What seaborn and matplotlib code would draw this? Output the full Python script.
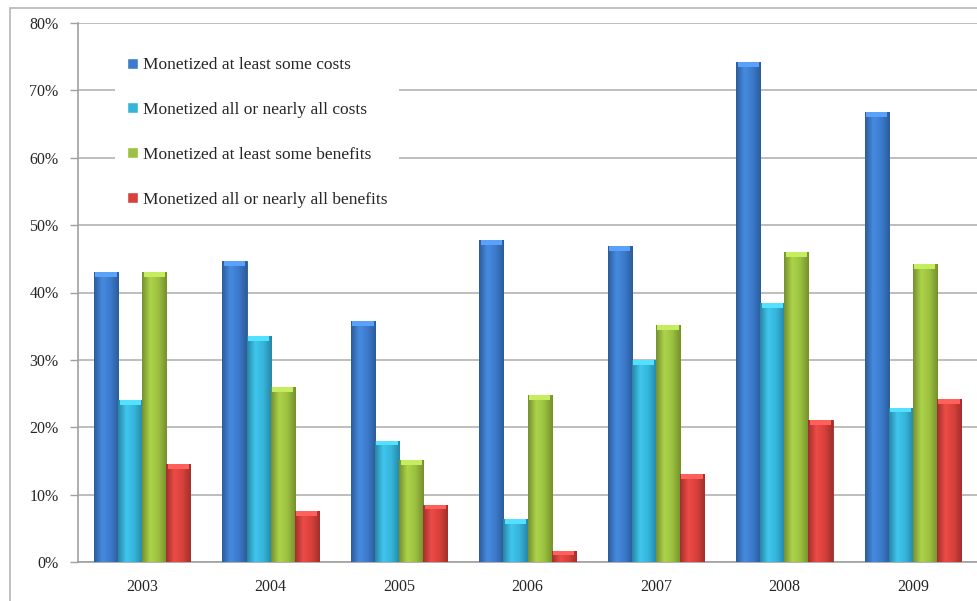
import numpy as np
import pandas as pd
import matplotlib
matplotlib.use("Agg")
import matplotlib.pyplot as plt
from matplotlib.patches import Rectangle
from matplotlib.colors import LinearSegmentedColormap, to_rgb
import seaborn as sns

years = ["2003", "2004", "2005", "2006", "2007", "2008", "2009"]
series = [
    "Monetized at least some costs",
    "Monetized all or nearly all costs",
    "Monetized at least some benefits",
    "Monetized all or nearly all benefits",
]
some_costs = [43.0, 44.7, 35.8, 47.8, 46.9, 74.2, 66.8]
all_costs = [24.0, 33.5, 18.0, 6.4, 30.0, 38.4, 22.9]
some_benefits = [43.0, 26.0, 15.1, 24.8, 35.2, 46.0, 44.2]
all_benefits = [14.5, 7.6, 8.5, 1.7, 13.0, 21.1, 24.2]
colors = ["#3b7bcc", "#35b4da", "#9cc03f", "#d8403b"]

values = [some_costs, all_costs, some_benefits, all_benefits]
df = pd.DataFrame(
    [(y, s, v) for s, vals in zip(series, values) for y, v in zip(years, vals)],
    columns=["year", "series", "pct"],
)

sns.set_theme(style="white")
plt.rcParams["font.family"] = ["Liberation Serif", "DejaVu Serif"]

fig = plt.figure(figsize=(9.77, 6.01), dpi=100)
ax = fig.add_axes([78 / 977, 1 - 562 / 601, 1 - 78 / 977, (562 - 23) / 601])

# outer chart border
fig.patches.append(Rectangle((10 / 977, -0.1), 1.2, 1 - 8 / 601 + 0.1,
                             transform=fig.transFigure, fill=False,
                             edgecolor="#b5b5b5", linewidth=1.2, zorder=0))

sns.barplot(data=df, x="year", y="pct", hue="series", order=years,
            hue_order=series, palette=colors, width=0.75, gap=0,
            saturation=1, ax=ax, legend=True, zorder=3)


def shade(c):
    r, g, b = to_rgb(c)
    dark = tuple(max(0, x * 0.75) for x in (r, g, b))
    light = tuple(min(1, x * 1.06 + 0.03) for x in (r, g, b))
    return LinearSegmentedColormap.from_list("s", [dark, light, (r, g, b), dark])


grad = np.linspace(0, 1, 64).reshape(1, -1)
for container, c in zip(ax.containers, colors):
    cmap = shade(c)
    for bar in container:
        x0, w, h = bar.get_x(), bar.get_width(), bar.get_height()
        bar.set_edgecolor(tuple(v * 0.7 for v in to_rgb(c)))
        bar.set_linewidth(0.6)
        im = ax.imshow(grad, cmap=cmap, aspect="auto",
                       extent=(x0, x0 + w, 0, h), zorder=3.5,
                       interpolation="bilinear")
        im.set_clip_path(bar)
        # bevelled cap on top of each bar
        cap = min(0.7, h)
        top = tuple(min(1, v * 1.1 + 0.1) for v in to_rgb(c))
        ax.add_patch(Rectangle((x0 + w * 0.06, h - cap), w * 0.88, cap,
                               facecolor=top, edgecolor="none", zorder=3.6))

ax.set_xlim(-0.5, len(years) - 0.5)
ax.set_ylim(0, 80)
ax.set_yticks(np.arange(0, 81, 10))
ax.set_yticklabels([f"{v}%" for v in range(0, 81, 10)], fontsize=11.5)
ax.yaxis.grid(True, color="#b3b3b3", linewidth=1.2, zorder=0)
ax.set_axisbelow(True)
ax.set_xlabel("")
ax.set_ylabel("")
ax.set_xticks(range(len(years)))
ax.set_xticklabels(years, fontsize=11.5)
ax.set_xticks(np.arange(-0.5, len(years), 1), minor=True)
ax.tick_params(axis="x", which="major", length=0, pad=12)
ax.tick_params(axis="x", which="minor", length=6, color="#a0a0a0", width=1)
ax.tick_params(axis="y", which="major", length=6, color="#a0a0a0", width=1,
               left=True, pad=8)
for side in ("top", "right"):
    ax.spines[side].set_visible(False)
for side in ("left", "bottom"):
    ax.spines[side].set_color("#a0a0a0")
    ax.spines[side].set_linewidth(1.2)

leg = ax.legend(loc="upper left", bbox_to_anchor=(37 / 899, 1 - 22 / 539),
                fontsize=12.5, frameon=True, facecolor="white",
                edgecolor="none", framealpha=1, fancybox=False,
                handlelength=0.6, handleheight=0.6, handletextpad=0.3,
                labelspacing=1.66, borderpad=0.7, borderaxespad=0)
leg.set_zorder(5)

fig.savefig("out.png", dpi=100)
